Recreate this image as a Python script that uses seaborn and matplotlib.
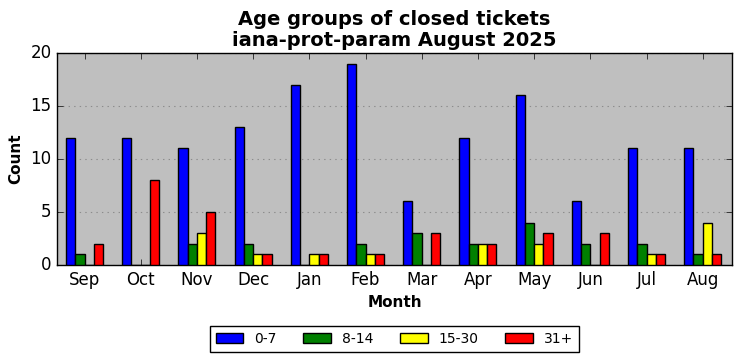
import matplotlib
matplotlib.use('Agg')
import matplotlib.pyplot as plt
import pandas as pd
import seaborn as sns

months = ['Sep', 'Oct', 'Nov', 'Dec', 'Jan', 'Feb', 'Mar', 'Apr', 'May', 'Jun', 'Jul', 'Aug']
groups = ['0-7', '8-14', '15-30', '31+']
g_0_7 = [12, 12, 11, 13, 17, 19, 6, 12, 16, 6, 11, 11]
g_8_14 = [1, 0, 2, 2, 0, 2, 3, 2, 4, 2, 2, 1]
g_15_30 = [0, 0, 3, 1, 1, 1, 0, 2, 2, 0, 1, 4]
g_31 = [2, 8, 5, 1, 1, 1, 3, 2, 3, 3, 1, 1]
colors = ['blue', 'green', 'yellow', 'red']

rows = []
for grp, vals in zip(groups, [g_0_7, g_8_14, g_15_30, g_31]):
    for m, v in zip(months, vals):
        rows.append({'Month': m, 'Age': grp, 'Count': v})
df = pd.DataFrame(rows)

plt.style.use('classic')
fig = plt.figure(figsize=(7.42, 3.61), dpi=100, facecolor='white')
ax = fig.add_axes([0.0768, 0.266, 0.9097, 0.587])

sns.barplot(data=df, x='Month', y='Count', hue='Age', order=months, hue_order=groups,
            palette=colors, width=0.66, edgecolor='black', linewidth=1,
            saturation=1, ax=ax, zorder=3)

ax.set_facecolor('#bfbfbf')
ax.set_xlim(-0.49, 11.52)
ax.set_ylim(0, 20)
ax.set_yticks([0, 5, 10, 15, 20])
ax.yaxis.grid(True, linestyle=(0, (1, 3)), color='#8c8c8c', linewidth=0.8, zorder=0)
ax.xaxis.grid(False)
ax.set_axisbelow(True)
ax.tick_params(direction='in', top=True, right=True, labelsize=12)

ax.set_title('Age groups of closed tickets\niana-prot-param August 2025',
             fontsize=14, fontweight='bold', linespacing=1.15)
ax.set_xlabel('Month', fontsize=11, fontweight='bold')
ax.set_ylabel('Count', fontsize=11, fontweight='bold')

ax.legend(loc='upper center', bbox_to_anchor=(0.5, -0.29), ncol=4, fontsize=10,
          frameon=True, fancybox=False, edgecolor='black', columnspacing=1.9,
          handlelength=2.0, borderaxespad=0)

fig.savefig('out.png', dpi=100, facecolor='white')
